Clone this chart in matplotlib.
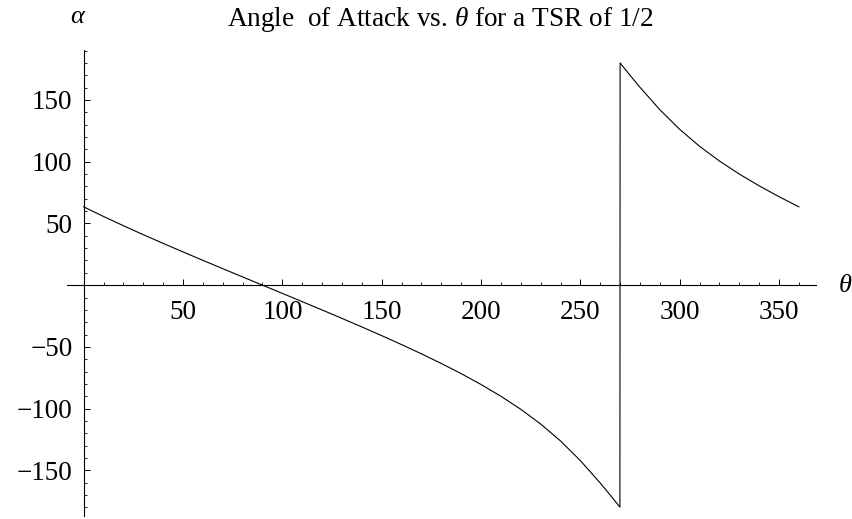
import matplotlib
matplotlib.use("Agg")
import matplotlib.pyplot as plt
from matplotlib.ticker import MultipleLocator, FixedLocator

plt.rcParams["font.family"] = ["Liberation Serif", "DejaVu Serif"]
plt.rcParams["mathtext.fontset"] = "custom"
plt.rcParams["mathtext.it"] = "Liberation Serif:italic"
plt.rcParams["mathtext.rm"] = "Liberation Serif"

# Blade angle (degrees) and angle of attack (degrees), TSR = 1/2
theta = [0, 10, 20, 30, 40, 50, 60, 70, 80, 90, 100, 110, 120, 130, 140,
         150, 160, 170, 180, 190, 200, 210, 220, 230, 240, 250, 260, 265,
         269, 269.9, 270, 271, 275, 280, 290, 300, 310, 320, 330, 340, 350, 360]
alpha = [63.43, 55.63, 48.14, 40.89, 33.84, 26.92, 20.10, 13.36, 6.67, 0.0,
         -6.67, -13.36, -20.10, -26.92, -33.84, -40.89, -48.14, -55.63, -63.43,
         -71.66, -80.46, -90.0, -100.56, -112.48, -126.20, -142.13, -160.30,
         -170.0, -178.0, -179.8, 180.0, 178.0, 170.0, 160.30, 142.13, 126.20,
         112.48, 100.56, 90.0, 80.46, 71.66, 63.43]

x_major = [50, 100, 150, 200, 250, 300, 350]
y_major = [-150, -100, -50, 50, 100, 150]

fig = plt.figure(figsize=(8.52, 5.19), dpi=100)
ax = fig.add_axes([67 / 852, 3 / 519, 749 / 852, 466 / 519])

ax.plot(theta, alpha, color="black", linewidth=0.8)

ax.set_xlim(-8.4, 368.6)
ax.set_ylim(-187, 190.5)

for side in ("top", "right"):
    ax.spines[side].set_visible(False)
ax.spines["left"].set_position(("data", 0))
ax.spines["bottom"].set_position(("data", 0))
for side in ("left", "bottom"):
    ax.spines[side].set_linewidth(0.8)

ax.xaxis.set_major_locator(FixedLocator(x_major))
ax.xaxis.set_minor_locator(MultipleLocator(10))
ax.yaxis.set_major_locator(FixedLocator(y_major))
ax.yaxis.set_minor_locator(MultipleLocator(10))

ax.tick_params(axis="both", which="major", direction="in", length=4,
               width=0.7, labelsize=19.5)
ax.tick_params(axis="both", which="minor", direction="in", length=2.2,
               width=0.6)
ax.tick_params(axis="x", which="major", pad=11)
ax.tick_params(axis="y", which="major", pad=8)

fig.text(440 / 852, 1 - 20 / 519,
         r"Angle  of Attack vs. $\mathit{\theta}$ for a TSR of 1/2",
         ha="center", va="center", fontsize=19.6)
fig.text(78 / 852, 1 - 17 / 519, r"$\mathit{\alpha}$", ha="center",
         va="center", fontsize=19)
fig.text(845 / 852, 1 - 286 / 519, r"$\mathit{\theta}$", ha="center",
         va="center", fontsize=19)

fig.savefig("out.png", dpi=100)
